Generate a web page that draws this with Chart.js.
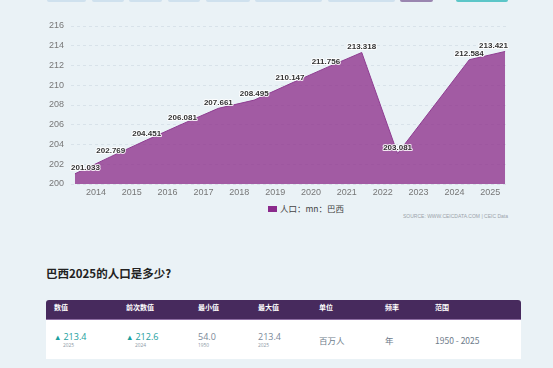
<!DOCTYPE html>
<html>
<head>
<meta charset="utf-8">
<script src="https://cdn.jsdelivr.net/npm/chart.js@4.4.1/dist/chart.umd.min.js"></script>
<style>
  body { margin: 0; background: #eaf2f6; width: 553px; height: 368px; overflow: hidden; position: relative; font-family: "Liberation Sans", Arial, sans-serif; }
  .tab { position: absolute; top: 0; height: 1.5px; background: #cfe1ee; border-radius: 0 0 2px 2px; }
  #chart-wrap { position: absolute; left: 0; top: 0; width: 553px; height: 200px; }
  .legend { position: absolute; left: 268px; top: 203px; font-size: 8.5px; color: #444; font-family: "Noto Sans CJK SC", sans-serif; line-height: 10px; }
  .legend i { display: inline-block; width: 9px; height: 6px; background: #8b2a8c; margin-right: 3px; vertical-align: 0px; }
  .source { position: absolute; right: 45px; top: 213px; font-size: 5px; color: #9aa3aa; }
  h2 { position: absolute; left: 46px; top: 265px; margin: 0; font-size: 11.5px; font-weight: bold; color: #222; font-family: "Noto Sans CJK SC", sans-serif; line-height: 16px; }
  .tbl { position: absolute; left: 46px; top: 300px; width: 475px; font-family: "Noto Sans CJK SC", "Open Sans", sans-serif; }
  .thead { position: relative; height: 19px; background: #472a5d; border-radius: 3px 3px 0 0; border-bottom: 1.5px solid #8e6ea3; }
  .tbody { position: relative; height: 39px; background: #fff; }
  .th { position: absolute; top: 2px; font-size: 7px; color: #fff; font-weight: bold; line-height: 10px; }
  .val { position: absolute; top: 11px; font-size: 9px; line-height: 12px; color: #7a8898; font-family: "Open Sans", sans-serif; }
  .val.up { color: #1aa09e; }
  .val .tri { font-size: 7.5px; margin-right: 2px; vertical-align: 0px; }
  .sub { position: absolute; top: 22px; font-size: 4.8px; color: #8a96a2; line-height: 6px; font-family: "Open Sans", sans-serif; }
  .txt { position: absolute; top: 14px; font-size: 8.5px; color: #6e7c8a; line-height: 12px; }
</style>
</head>
<body>
<div class="tab" style="left:47px;width:39px"></div>
<div class="tab" style="left:92px;width:32px"></div>
<div class="tab" style="left:129px;width:33px"></div>
<div class="tab" style="left:168px;width:32px"></div>
<div class="tab" style="left:206px;width:44px"></div>
<div class="tab" style="left:255px;width:67px"></div>
<div class="tab" style="left:328px;width:67px"></div>
<div class="tab" style="left:400px;width:33px;background:#9a86b0"></div>
<div class="tab" style="left:456px;width:52px;background:#5cc6c8"></div>

<div id="chart-wrap"><canvas id="chart"></canvas></div>
<div class="legend"><i></i>人口：mn：巴西</div>
<div class="source">SOURCE: WWW.CEICDATA.COM | CEIC Data</div>

<h2>巴西2025的人口是多少?</h2>
<div class="tbl">
  <div class="thead">
    <span class="th" style="left:8px">数值</span>
    <span class="th" style="left:80px">前次数值</span>
    <span class="th" style="left:152px">最小值</span>
    <span class="th" style="left:212px">最大值</span>
    <span class="th" style="left:273px">单位</span>
    <span class="th" style="left:339px">频率</span>
    <span class="th" style="left:389px">范围</span>
  </div>
  <div class="tbody">
    <span class="val up" style="left:8px"><span class="tri">▲</span>213.4</span>
    <span class="sub" style="left:17px">2025</span>
    <span class="val up" style="left:80px"><span class="tri">▲</span>212.6</span>
    <span class="sub" style="left:89px">2024</span>
    <span class="val" style="left:152px">54.0</span>
    <span class="sub" style="left:152px">1950</span>
    <span class="val" style="left:212px">213.4</span>
    <span class="sub" style="left:212px">2025</span>
    <span class="txt" style="left:273px">百万人</span>
    <span class="txt" style="left:339px">年</span>
    <span class="txt" style="left:389px">1950 - 2025</span>
  </div>
</div>

<script>
// population, million persons (2023 not reported)
const years = [2013, 2014, 2015, 2016, 2017, 2018, 2019, 2020, 2021, 2022, 2024, 2025];
const population = [201.033, 202.769, 204.451, 206.081, 207.661, 208.495, 210.147, 211.756, 213.318, 203.081, 212.584, 213.421];
const tickYears = [2014, 2015, 2016, 2017, 2018, 2019, 2020, 2021, 2022, 2023, 2024, 2025];
const yTicks = [200, 202, 204, 206, 208, 210, 212, 214, 216];

// year labels sit a bit before the data points, like the original
const labelShift = 0.415;

// === point value labels with white halo ===
const valueLabels = {
  id: "valueLabels",
  afterDatasetsDraw(chart) {
    const { ctx, chartArea } = chart;
    const meta = chart.getDatasetMeta(0);
    ctx.save();
    ctx.font = "bold 8px 'Liberation Sans', Arial, sans-serif";
    ctx.textAlign = "center";
    ctx.textBaseline = "middle";
    ctx.lineJoin = "round";
    meta.data.forEach((pt, i) => {
      const text = population[i].toFixed(3);
      const w = ctx.measureText(text).width;
      let x = pt.x;
      x = Math.max(chartArea.left + w / 2, Math.min(chartArea.right - w / 2, x));
      const y = pt.y - 6;
      ctx.strokeStyle = "rgba(255,255,255,0.85)";
      ctx.lineWidth = 2;
      ctx.strokeText(text, x, y);
      ctx.fillStyle = "#333";
      ctx.fillText(text, x, y);
    });
    ctx.restore();
  },
};

new Chart(document.getElementById("chart"), {
  type: "line",
  data: {
    datasets: [
      {
        label: "人口：mn：巴西",
        data: years.map((y, i) => ({ x: y, y: population[i] })),
        borderColor: "#8e3d91",
        borderWidth: 1,
        backgroundColor: "rgba(139,44,137,0.76)",
        fill: "start",
        tension: 0,
        pointRadius: 0,
      },
    ],
  },
  options: {
    responsive: true,
    maintainAspectRatio: false,
    animation: false,
    layout: { padding: { left: 40, right: 45, top: 26, bottom: 2 } },
    scales: {
      x: {
        type: "linear",
        min: 2012.89,
        max: 2025.08,
        grid: { display: false, drawTicks: false },
        border: { display: false },
        afterBuildTicks: (scale) => {
          scale.ticks = tickYears.map((y) => ({ value: y - labelShift }));
        },
        afterFit: (scale) => {
          scale.height = 14;
        },
        ticks: {
          padding: 3,
          color: "#777",
          autoSkip: false,
          maxRotation: 0,
          font: { size: 9, family: "'Liberation Sans', Arial, sans-serif" },
          callback: (value) => String(Math.round(value + labelShift)),
        },
      },
      y: {
        min: 200,
        max: 216,
        afterBuildTicks: (scale) => {
          scale.ticks = yTicks.map((v) => ({ value: v }));
        },
        afterFit: (scale) => {
          scale.width = 31;
        },
        border: { display: false, dash: [3, 3] },
        grid: { color: "#d8e2e9", drawTicks: false },
        ticks: {
          padding: 7,
          color: "#777",
          font: { size: 9, family: "'Liberation Sans', Arial, sans-serif" },
        },
      },
    },
    plugins: {
      legend: { display: false },
      tooltip: { enabled: false },
    },
  },
  plugins: [valueLabels],
});
</script>
</body>
</html>
